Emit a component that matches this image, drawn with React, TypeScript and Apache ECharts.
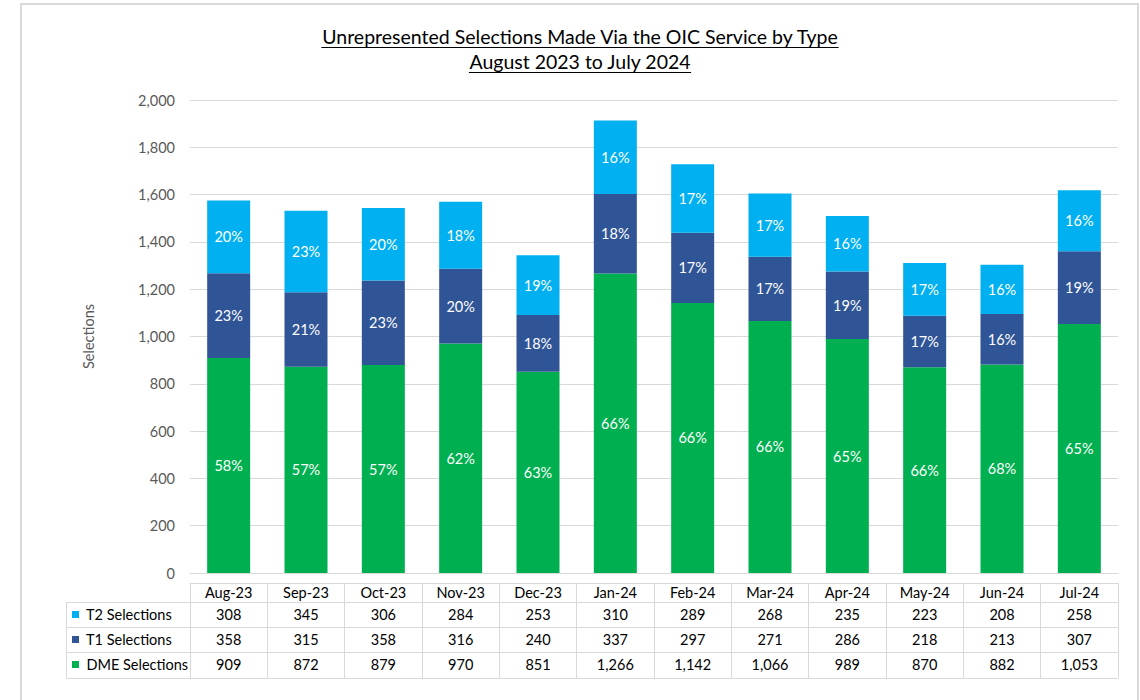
import React, { useEffect, useRef } from "react";
import * as echarts from "echarts";

const categories = ["Aug-23", "Sep-23", "Oct-23", "Nov-23", "Dec-23", "Jan-24", "Feb-24", "Mar-24", "Apr-24", "May-24", "Jun-24", "Jul-24"];
const t2Values = [308, 345, 306, 284, 253, 310, 289, 268, 235, 223, 208, 258];
const t1Values = [358, 315, 358, 316, 240, 337, 297, 271, 286, 218, 213, 307];
const dmeValues = [909, 872, 879, 970, 851, 1266, 1142, 1066, 989, 870, 882, 1053];
const seriesNames = ["DME Selections", "T1 Selections", "T2 Selections"];
const titleLines = ["Unrepresented Selections Made Via the OIC Service by Type", "August 2023 to July 2024"];

const COLORS = { t2: "#00b0f0", t1: "#2f5597", dme: "#00b050" };
const FONT = "Lato, 'Noto Sans', sans-serif";
const FS = 14.5;
const GRID_LEFT = 190;
const GRID_RIGHT = 22;
const GRID_BOTTOM = 127;
const BORDER = "#d9d9d9";

const totals = categories.map((_, i) => t2Values[i] + t1Values[i] + dmeValues[i]);
const fmt = (v: number) => v.toLocaleString("en-US");

function measure(text: string, font: string) {
  const c = document.createElement("canvas").getContext("2d");
  if (!c) return text.length * 9;
  c.font = font;
  return c.measureText(text).width;
}

export default function App() {
  const ref = useRef<HTMLDivElement>(null);
  useEffect(() => {
    if (!ref.current) return;
    const chart = echarts.init(ref.current, null, { renderer: "svg" });

    const titleSize = 19.5;
    const titleFont = `${titleSize}px Lato`;
    const titleCx = 580;
    const titleYs = [36, 61];
    const titleGraphics: any[] = [];
    titleLines.forEach((t, k) => {
      const w = measure(t, titleFont);
      titleGraphics.push({
        type: "text",
        x: titleCx,
        y: titleYs[k],
        style: { text: t, fontSize: titleSize, fontFamily: FONT, fill: "#000", align: "center", verticalAlign: "middle" },
      });
      titleGraphics.push({
        type: "line",
        shape: { x1: titleCx - w / 2, y1: titleYs[k] + 11.5, x2: titleCx + w / 2, y2: titleYs[k] + 11.5 },
        style: { stroke: "#000", lineWidth: 1 },
      });
    });

    const rowLines = [602.5, 627.5, 652.5, 678.5];
    const tableGraphics: any[] = rowLines.map((y) => ({
      type: "line",
      shape: { x1: 66, y1: y, x2: GRID_LEFT, y2: y },
      style: { stroke: BORDER, lineWidth: 1 },
    }));
    tableGraphics.push({
      type: "line",
      shape: { x1: 66.5, y1: 602.5, x2: 66.5, y2: 678.5 },
      style: { stroke: BORDER, lineWidth: 1 },
    });

    const pctLabel = (p: any) => {
      const v = p.value as number;
      return Math.round((v / totals[p.dataIndex]) * 100) + "%";
    };

    const labelStyle = { show: true, position: "inside", color: "#fff", fontSize: FS, fontFamily: FONT, formatter: pctLabel };

    const rowAxis = (offset: number, values: number[], name: string, color: string) => ({
      type: "category",
      data: categories,
      gridIndex: 0,
      position: "bottom",
      offset,
      axisLine: { show: true, lineStyle: { color: BORDER, width: 1 } },
      axisTick: { show: false },
      axisLabel: {
        show: true,
        interval: 0,
        margin: 5,
        fontSize: FS,
        fontFamily: FONT,
        color: "#000",
        formatter: (_v: string, i: number) => fmt(values[i]),
      },
      name: "{m|}  " + name,
      nameLocation: "start",
      nameGap: GRID_LEFT - 72,
      nameTextStyle: {
        align: "left",
        verticalAlign: "top",
        padding: [5, 0, 0, 0],
        fontSize: FS,
        fontFamily: FONT,
        color: "#000",
        rich: { m: { width: 7, height: 7, backgroundColor: color, verticalAlign: "middle" } },
      },
      splitLine: { show: false },
    });

    chart.setOption({
      animation: false,
      backgroundColor: "#fff",
      textStyle: { fontFamily: FONT },
      grid: { left: GRID_LEFT, right: GRID_RIGHT, top: 100, bottom: GRID_BOTTOM, containLabel: false },
      graphic: [
        {
          type: "rect",
          shape: { x: 21, y: 4, width: 1117, height: 740 },
          style: { fill: "none", stroke: BORDER, lineWidth: 2 },
          silent: true,
        },
        ...titleGraphics,
        ...tableGraphics,
      ],
      xAxis: [
        {
          type: "category",
          data: categories,
          gridIndex: 0,
          position: "bottom",
          axisLine: { show: true, lineStyle: { color: BORDER, width: 1 } },
          axisTick: { show: false },
          axisLabel: { interval: 0, margin: 12, fontSize: FS, fontFamily: FONT, color: "#000" },
        },
        {
          type: "category",
          data: categories,
          gridIndex: 0,
          position: "bottom",
          offset: 10,
          axisLine: { show: true, lineStyle: { color: BORDER, width: 1 } },
          axisTick: { show: true, interval: 0, inside: false, length: 95, lineStyle: { color: BORDER, width: 1 } },
          axisLabel: { show: false },
        },
        rowAxis(29, t2Values, seriesNames[2], COLORS.t2),
        rowAxis(54, t1Values, seriesNames[1], COLORS.t1),
        rowAxis(79, dmeValues, seriesNames[0], COLORS.dme),
        {
          type: "category",
          data: categories,
          gridIndex: 0,
          position: "bottom",
          offset: 105,
          axisLine: { show: true, lineStyle: { color: BORDER, width: 1 } },
          axisTick: { show: false },
          axisLabel: { show: false },
        },
      ],
      yAxis: {
        type: "value",
        min: 0,
        max: 2000,
        interval: 200,
        name: "Selections",
        nameLocation: "middle",
        nameGap: 94,
        nameTextStyle: { fontSize: FS, fontFamily: FONT, color: "#595959" },
        axisLine: { show: false },
        axisTick: { show: false },
        axisLabel: { margin: 15, fontSize: FS, fontFamily: FONT, color: "#595959", formatter: (v: number) => fmt(v) },
        splitLine: { lineStyle: { color: BORDER, width: 1 } },
      },
      series: [
        { name: seriesNames[0], type: "bar", stack: "total", xAxisIndex: 0, data: dmeValues, barWidth: 43, itemStyle: { color: COLORS.dme }, label: labelStyle },
        { name: seriesNames[1], type: "bar", stack: "total", xAxisIndex: 0, data: t1Values, barWidth: 43, itemStyle: { color: COLORS.t1 }, label: labelStyle },
        { name: seriesNames[2], type: "bar", stack: "total", xAxisIndex: 0, data: t2Values, barWidth: 43, itemStyle: { color: COLORS.t2 }, label: labelStyle },
      ],
    });
    return () => chart.dispose();
  }, []);
  return <div ref={ref} style={{ position: "absolute", left: 0, top: 0, width: 1140, height: 700 }} />;
}
